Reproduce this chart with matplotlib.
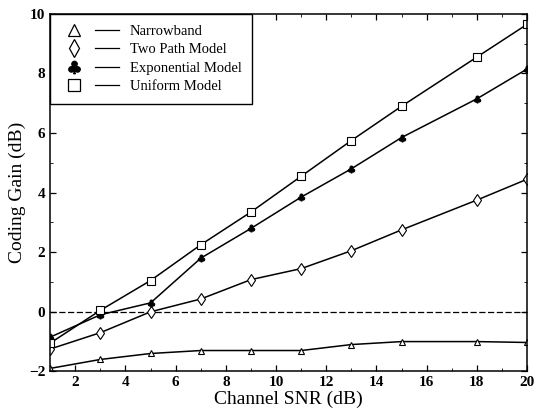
import numpy as np
import matplotlib.pyplot as plt
from matplotlib.lines import Line2D
from matplotlib.legend_handler import HandlerTuple

plt.rcParams['font.family'] = ['Liberation Serif', 'DejaVu Sans']
plt.rcParams['mathtext.fontset'] = 'dejavusans'

snr = [1, 3, 5, 7, 9, 11, 13, 15, 18, 20]
narrowband = [-1.9, -1.6, -1.4, -1.3, -1.3, -1.3, -1.1, -1.0, -1.0, -1.03]
two_path = [-1.25, -0.7, 0.0, 0.43, 1.08, 1.45, 2.05, 2.75, 3.75, 4.45]
exponential = [-0.85, -0.1, 0.3, 1.8, 2.8, 3.85, 4.8, 5.85, 7.15, 8.15]
uniform = [-1.05, 0.05, 1.05, 2.25, 3.35, 4.55, 5.75, 6.9, 8.55, 9.65]
labels = ['Narrowband', 'Two Path Model', 'Exponential Model', 'Uniform Model']

fig = plt.figure(figsize=(5.34, 4.09), dpi=100)
ax = fig.add_axes([0.094, 0.092, 0.893, 0.874])

ax.axhline(0, color='black', lw=0.9, ls=(0, (5, 2)))

styles = [
    dict(marker='^', ms=5, mfc='white'),
    dict(marker='d', ms=6, mfc='white'),
    dict(marker=r'$\clubsuit$', ms=5, mfc='black'),
    dict(marker='s', ms=6, mfc='white'),
]
leg_ms = [8, 9, 9, 8]
series = [narrowband, two_path, exponential, uniform]
for ys, st in zip(series, styles):
    ax.plot(snr, ys, color='black', lw=1.1, mec='black', mew=0.8, **st)

handles = []
for st, ms in zip(styles, leg_ms):
    m = Line2D([], [], ls='none', color='black', mec='black', mew=0.9,
               **{**st, 'ms': ms})
    l = Line2D([], [], color='black', lw=0.9)
    handles.append((m, l))
leg = ax.legend(handles, labels, handler_map={tuple: HandlerTuple(ndivide=None, pad=0.6)},
                loc='upper left', bbox_to_anchor=(0, 1), borderaxespad=0,
                fontsize=10.5, handlelength=4.0, handletextpad=0.7, labelspacing=0.35,
                fancybox=False, edgecolor='black', framealpha=1,
                borderpad=0.75)
leg.get_frame().set_linewidth(1.0)

ax.set_xlim(1, 20)
ax.set_ylim(-2, 10)
ax.set_xticks([2, 4, 6, 8, 10, 12, 14, 16, 18, 20])
ax.set_yticks([-2, 0, 2, 4, 6, 8, 10])
ax.set_xticks(np.arange(1, 21, 1), minor=True)
ax.set_yticks(np.arange(-2, 10.5, 1), minor=True)
ax.tick_params(direction='in', top=True, right=True, labelsize=11, length=4, width=0.9)
ax.tick_params(which='minor', direction='in', top=True, right=True, length=2.5)
for lab in ax.get_xticklabels() + ax.get_yticklabels():
    lab.set_fontweight('bold')
for s in ax.spines.values():
    s.set_linewidth(1.1)

ax.set_xlabel('Channel SNR (dB)', fontsize=14, labelpad=1)
ax.set_ylabel('Coding Gain (dB)', fontsize=14, labelpad=2)

fig.savefig('out.png', dpi=100)
